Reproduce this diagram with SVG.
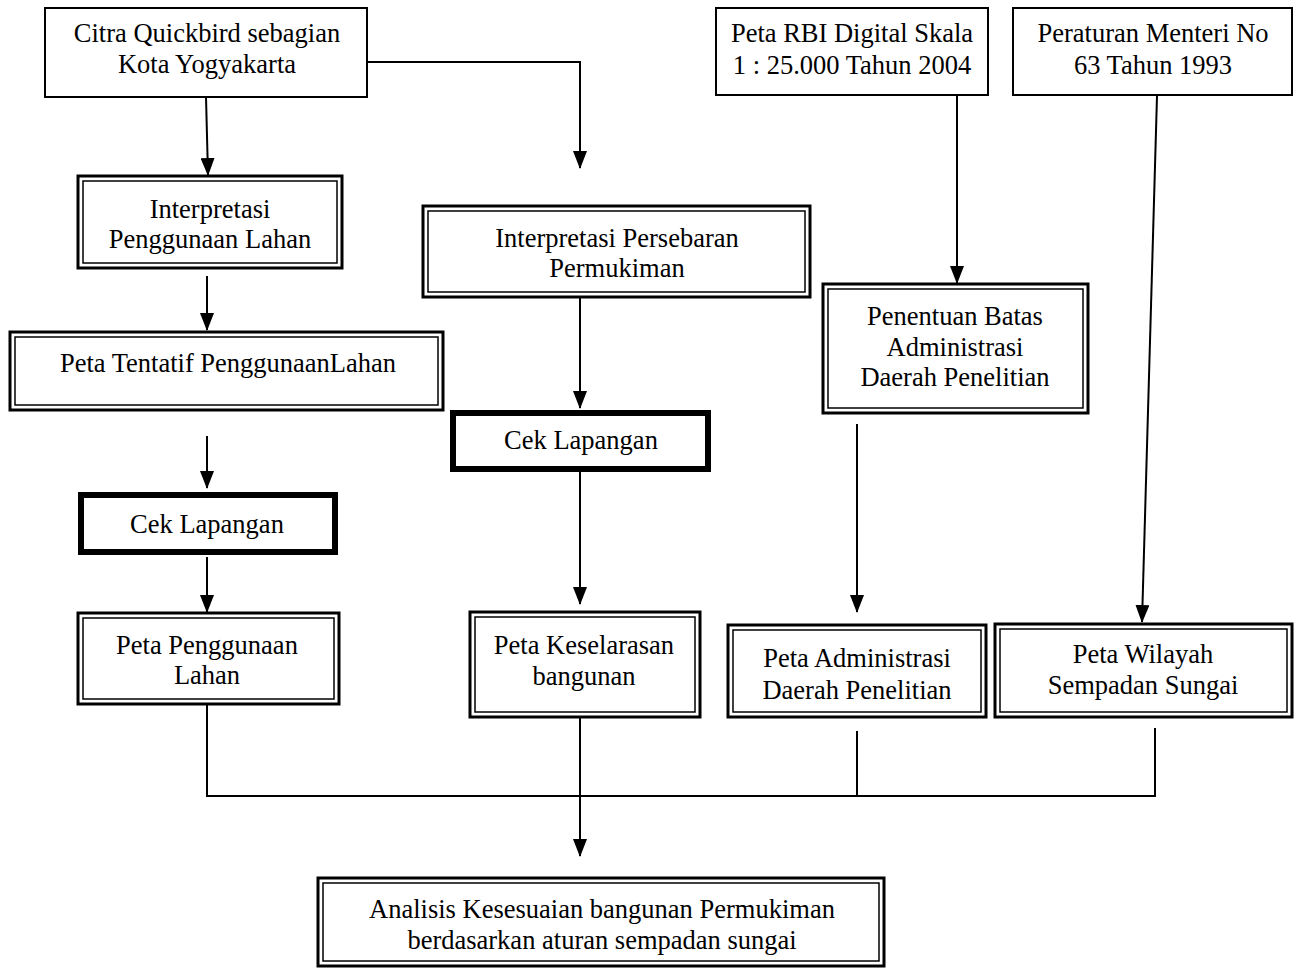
<svg xmlns="http://www.w3.org/2000/svg" width="1296" height="968" viewBox="0 0 1296 968">
<defs>
<marker id="arr" markerUnits="userSpaceOnUse" markerWidth="18" markerHeight="14" refX="17" refY="7" orient="auto" viewBox="0 0 18 14">
<path d="M0,0 L18,7 L0,14 Z" fill="#000"/>
</marker>
</defs>
<style>
text{font-family:"Liberation Serif","Times New Roman",serif;font-size:26.5px;fill:#000;text-anchor:middle}
.s{fill:#fff;stroke:#000;stroke-width:2}
.o{fill:#fff;stroke:#000;stroke-width:3}
.i{fill:none;stroke:#000;stroke-width:1.5}
.t{fill:#fff;stroke:#000;stroke-width:6}
.c{fill:none;stroke:#000;stroke-width:2}
.a{fill:none;stroke:#000;stroke-width:2;marker-end:url(#arr)}
</style>
<rect width="1296" height="968" fill="#fff"/>
<g id="connectors">
<path class="c" d="M367,62 H580 V150"/>
<path class="a" d="M580,150 V168"/>
<path class="a" d="M206,97 L208,175"/>
<path class="a" d="M207,276 V330"/>
<path class="a" d="M207,436 V488"/>
<path class="a" d="M207,557 V612"/>
<path class="a" d="M580,298 V408"/>
<path class="a" d="M580,472 V604"/>
<path class="a" d="M957,96 V283"/>
<path class="a" d="M857,424 V612"/>
<path class="a" d="M1157,96 L1142,622"/>
<path class="c" d="M207,705 V796 H1155 V728"/>
<path class="c" d="M857,731 V797"/>
<path class="a" d="M580,718 V856"/>
</g>
<g id="n1"><rect class="s" x="45" y="8" width="322" height="89"/><text x="207" y="42">Citra Quickbird sebagian</text><text x="207" y="73">Kota Yogyakarta</text></g>
<g id="n2"><rect class="o" x="78" y="176" width="264" height="92"/><rect class="i" x="83" y="181" width="254" height="82"/><text x="210" y="218">Interpretasi</text><text x="210" y="248">Penggunaan Lahan</text></g>
<g id="n3"><rect class="o" x="10" y="332" width="433" height="78"/><rect class="i" x="15" y="337" width="423" height="68"/><text x="228" y="372">Peta Tentatif PenggunaanLahan</text></g>
<g id="n4"><rect class="t" x="81" y="495" width="254" height="57"/><text x="207" y="533">Cek Lapangan</text></g>
<g id="n5"><rect class="o" x="78" y="613" width="261" height="91"/><rect class="i" x="83" y="618" width="251" height="81"/><text x="207" y="654">Peta Penggunaan</text><text x="207" y="684">Lahan</text></g>
<g id="n6"><rect class="o" x="423" y="206" width="387" height="91"/><rect class="i" x="428" y="211" width="377" height="81"/><text x="617" y="247">Interpretasi Persebaran</text><text x="617" y="277">Permukiman</text></g>
<g id="n7"><rect class="t" x="453" y="413" width="255" height="56"/><text x="581" y="449">Cek Lapangan</text></g>
<g id="n8"><rect class="o" x="470" y="612" width="230" height="105"/><rect class="i" x="475" y="617" width="220" height="95"/><text x="584" y="654">Peta Keselarasan</text><text x="584" y="685">bangunan</text></g>
<g id="n9"><rect class="s" x="716" y="8" width="272" height="87"/><text x="852" y="42">Peta RBI Digital Skala</text><text x="852" y="74">1 : 25.000 Tahun 2004</text></g>
<g id="n10"><rect class="o" x="823" y="284" width="265" height="129"/><rect class="i" x="828" y="289" width="255" height="119"/><text x="955" y="325">Penentuan Batas</text><text x="955" y="356">Administrasi</text><text x="955" y="386">Daerah Penelitian</text></g>
<g id="n11"><rect class="o" x="728" y="625" width="258" height="92"/><rect class="i" x="733" y="630" width="248" height="82"/><text x="857" y="667">Peta Administrasi</text><text x="857" y="699">Daerah Penelitian</text></g>
<g id="n12"><rect class="s" x="1013" y="8" width="279" height="87"/><text x="1153" y="42">Peraturan Menteri No</text><text x="1153" y="74">63 Tahun 1993</text></g>
<g id="n13"><rect class="o" x="995" y="624" width="297" height="93"/><rect class="i" x="1000" y="629" width="287" height="83"/><text x="1143" y="663">Peta Wilayah</text><text x="1143" y="694">Sempadan Sungai</text></g>
<g id="n14"><rect class="o" x="318" y="878" width="566" height="88"/><rect class="i" x="323" y="883" width="556" height="78"/><text x="602" y="918">Analisis Kesesuaian bangunan Permukiman</text><text x="602" y="949">berdasarkan aturan sempadan sungai</text></g>
</svg>
